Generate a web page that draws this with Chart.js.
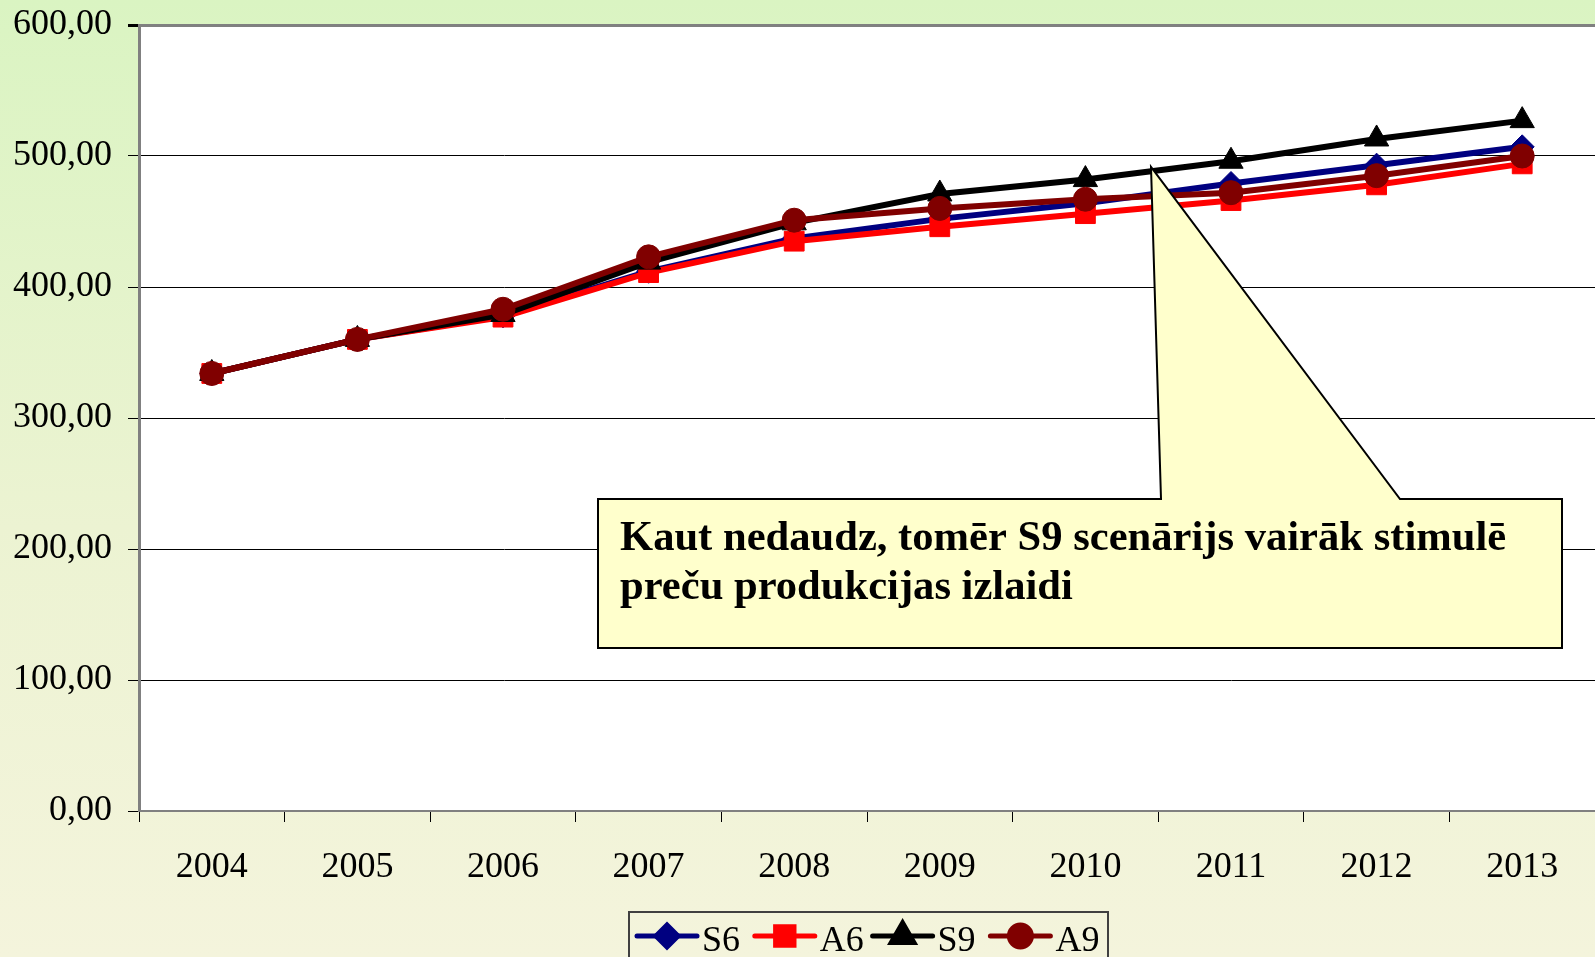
<!DOCTYPE html>
<html>
<head>
<meta charset="utf-8">
<script src="https://cdn.jsdelivr.net/npm/chart.js@4.4.0/dist/chart.umd.min.js"></script>
<style>
	html, body { margin: 0; padding: 0; overflow: hidden; }
	canvas { display: block; }
</style>
</head>
<body>
<canvas id="lineChart" width="1595" height="957"></canvas>
<script>
	'use strict';
	/*----data----*/
	var years = ['2004', '2005', '2006', '2007', '2008', '2009', '2010', '2011', '2012', '2013'];
	var s6 = [334, 360, 378, 412, 437, 452, 464, 479, 493, 507];
	var a6 = [334, 360, 377, 411, 435, 446, 456, 466, 478, 494];
	var s9 = [334, 360, 379, 419, 449, 471, 482, 496, 513, 527];
	var a9 = [334, 360, 383, 423, 451, 460, 467, 472, 485, 500];
	var yTicks = [0, 100, 200, 300, 400, 500, 600];
	var noteLines = ['Kaut nedaudz, tomēr S9 scenārijs vairāk stimulē', 'preču produkcijas izlaidi'];

	var serif = "'Liberation Serif', 'Times New Roman', serif";

	/*----background + plot area----*/
	var backdrop = {
		id: 'backdrop',
		beforeDraw: function(chart) {
			var ctx = chart.ctx, a = chart.chartArea;
			var g = ctx.createLinearGradient(0, 0, 0, chart.height);
			g.addColorStop(0, '#daf4c2');
			g.addColorStop(0.55, '#ecf3d2');
			g.addColorStop(1, '#f4f4dc');
			ctx.save();
			ctx.fillStyle = g;
			ctx.fillRect(0, 0, chart.width, chart.height);
			ctx.fillStyle = '#ffffff';
			ctx.fillRect(a.left, a.top, a.right - a.left, a.bottom - a.top);
			ctx.restore();
		}
	};

	/*----callout + legend----*/
	var extras = {
		id: 'extras',
		afterDraw: function(chart) {
			var ctx = chart.ctx;
			ctx.save();
			// callout box with pointer
			ctx.beginPath();
			ctx.moveTo(598, 499);
			ctx.lineTo(1161, 499);
			ctx.lineTo(1151, 167);
			ctx.lineTo(1400, 499);
			ctx.lineTo(1562, 499);
			ctx.lineTo(1562, 648);
			ctx.lineTo(598, 648);
			ctx.closePath();
			ctx.fillStyle = '#ffffcc';
			ctx.fill();
			ctx.lineWidth = 2;
			ctx.strokeStyle = '#000';
			ctx.stroke();
			ctx.fillStyle = '#000';
			ctx.font = 'bold 42.6px ' + serif;
			ctx.textBaseline = 'alphabetic';
			ctx.textAlign = 'left';
			ctx.fillText(noteLines[0], 620, 550);
			ctx.fillText(noteLines[1], 620, 599);

			// legend
			ctx.lineWidth = 2;
			ctx.strokeStyle = '#404040';
			ctx.strokeRect(629, 912, 479, 60);
			ctx.font = '36px ' + serif;
			chart.data.datasets.forEach(function(ds, i) {
				var x0 = 637 + i * 117.8, y0 = 936;
				ctx.beginPath();
				ctx.lineCap = 'round';
				ctx.lineWidth = 5;
				ctx.strokeStyle = ds.borderColor;
				ctx.moveTo(x0, y0);
				ctx.lineTo(x0 + 60, y0);
				ctx.stroke();
				ctx.fillStyle = ds.backgroundColor;
				ctx.strokeStyle = ds.borderColor;
				Chart.helpers.drawPoint(ctx, {
					pointStyle: ds.pointStyle,
					radius: ds.pointRadius - 1,
					rotation: 0,
					borderWidth: 1
				}, x0 + 30, y0);
				ctx.fillStyle = '#000';
				ctx.fillText(ds.label, x0 + 65, 951);
			});
			ctx.restore();
		}
	};

	var ctx = document.getElementById('lineChart').getContext('2d');
	var myChart = new Chart(ctx, {
		type: 'line',
		data: {
			labels: years,
			datasets: [{
				label: 'S6',
				data: s6,
				borderColor: '#000080',
				backgroundColor: '#000080',
				pointStyle: 'rectRot',
				pointRadius: 12,
				order: 4
			}, {
				label: 'A6',
				data: a6,
				borderColor: '#ff0000',
				backgroundColor: '#ff0000',
				pointStyle: 'rect',
				pointRadius: 14,
				order: 3
			}, {
				label: 'S9',
				data: s9,
				borderColor: '#000000',
				backgroundColor: '#000000',
				pointStyle: 'triangle',
				pointRadius: 14,
				order: 2
			}, {
				label: 'A9',
				data: a9,
				borderColor: '#800000',
				backgroundColor: '#800000',
				pointStyle: 'circle',
				pointRadius: 12,
				order: 1
			}]
		},
		options: {
			responsive: false,
			devicePixelRatio: 1,
			animation: false,
			layout: {
				autoPadding: false,
				padding: { top: 25, left: 0, right: -4, bottom: 0 }
			},
			elements: {
				line: { borderWidth: 6, tension: 0 },
				point: { borderWidth: 1, hoverRadius: 12 }
			},
			plugins: {
				legend: { display: false },
				tooltip: { enabled: false }
			},
			scales: {
				x: {
					offset: true,
					afterFit: function(scale) {
						scale.height = 146;
						scale.paddingLeft = 0;
						scale.paddingRight = 0;
					},
					grid: {
						offset: true,
						drawOnChartArea: false,
						tickLength: 11,
						tickColor: '#000'
					},
					border: { color: '#808080', width: 2 },
					ticks: {
						color: '#000',
						font: { family: serif, size: 36 },
						padding: 24,
						maxRotation: 0,
						autoSkip: false
					}
				},
				y: {
					min: 0,
					max: 600,
					afterFit: function(scale) {
						scale.width = 139;
						scale.paddingTop = 0;
						scale.paddingBottom = 0;
					},
					afterBuildTicks: function(scale) {
						scale.ticks = yTicks.map(function(v) { return { value: v }; });
					},
					grid: {
						color: function(c) { return c.tick && c.tick.value === 600 ? '#808080' : '#000'; },
						lineWidth: function(c) { return c.tick && c.tick.value === 600 ? 3 : 1; },
						tickLength: 11,
						tickColor: '#000'
					},
					border: { color: '#808080', width: 3 },
					ticks: {
						color: '#000',
						font: { family: serif, size: 36 },
						padding: 16,
						callback: function(v) { return v.toFixed(2).replace('.', ','); }
					}
				}
			}
		},
		plugins: [backdrop, extras]
	});
</script>
</body>
</html>
